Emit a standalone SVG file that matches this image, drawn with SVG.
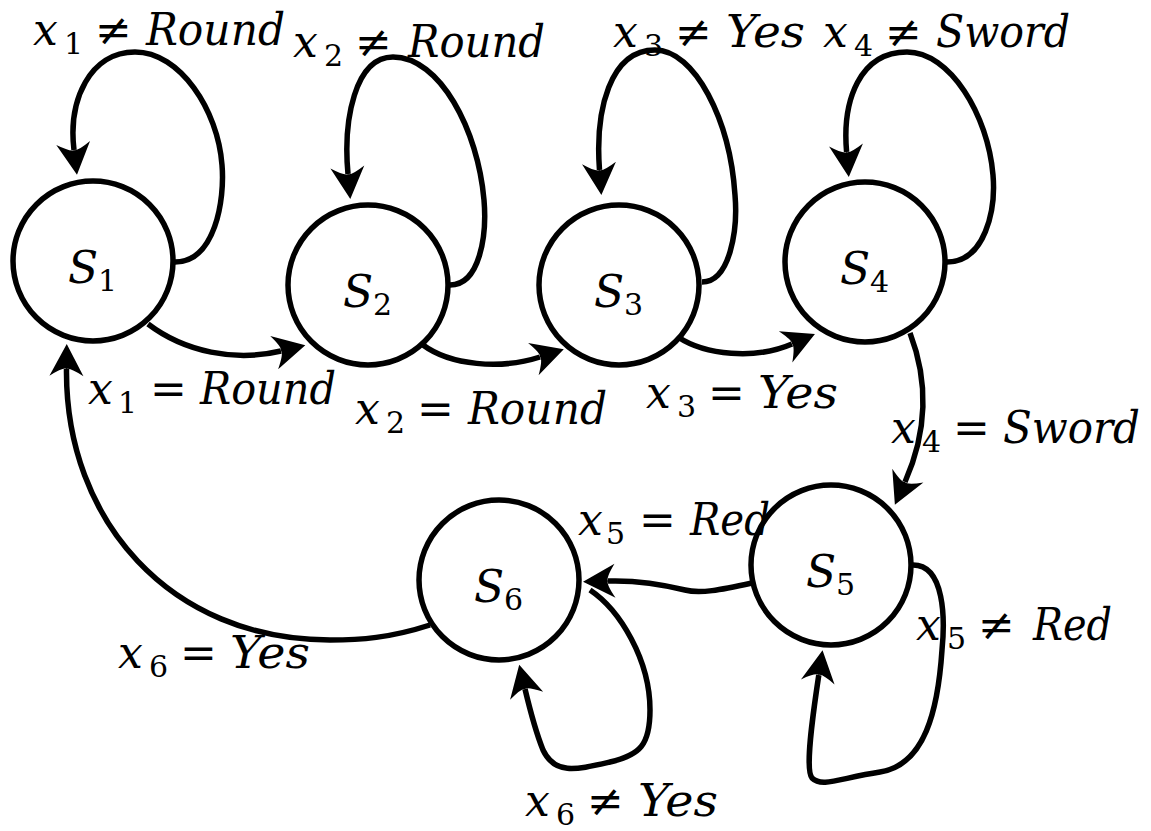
<svg xmlns="http://www.w3.org/2000/svg" width="1151" height="831" viewBox="0 0 1151 831">
<style>
.node circle{fill:#fff;stroke:#000;stroke-width:5.5}
.edge{fill:none;stroke:#000;stroke-width:5.5;marker-end:url(#ah)}
text{font-family:"DejaVu Serif","Liberation Serif",serif;font-size:44px;fill:#000}
.i{font-style:italic}
.s{font-size:30px;font-style:normal}
.r{font-size:44px;font-style:normal}
</style>
<defs>
<marker id="ah" markerUnits="userSpaceOnUse" viewBox="-2 -19 36 38" refX="7" refY="0" markerWidth="36" markerHeight="38" orient="auto">
<path d="M32,0 L0,-17 Q9,-3 7,0 Q9,3 0,17 Z" fill="#000"/>
</marker>
</defs>
<g id="S1" class="node"><circle cx="93" cy="261" r="80"/><text y="283"><tspan x="68" class="i">S</tspan><tspan x="98" dy="8" class="s">1</tspan></text></g>
<g id="S2" class="node"><circle cx="368" cy="285" r="80"/><text y="307"><tspan x="343" class="i">S</tspan><tspan x="373" dy="8" class="s">2</tspan></text></g>
<g id="S3" class="node"><circle cx="619" cy="285" r="80"/><text y="307"><tspan x="594" class="i">S</tspan><tspan x="624" dy="8" class="s">3</tspan></text></g>
<g id="S4" class="node"><circle cx="865" cy="262" r="80"/><text y="284"><tspan x="840" class="i">S</tspan><tspan x="870" dy="8" class="s">4</tspan></text></g>
<g id="S5" class="node"><circle cx="831" cy="565" r="80"/><text y="587"><tspan x="806" class="i">S</tspan><tspan x="836" dy="8" class="s">5</tspan></text></g>
<g id="S6" class="node"><circle cx="499" cy="580" r="80"/><text y="602"><tspan x="474" class="i">S</tspan><tspan x="504" dy="8" class="s">6</tspan></text></g>
<g id="connectors">
<path class="edge" d="M148,324 C185,352 235,362 281,351"/>
<path class="edge" d="M423,345 C450,365 500,370 540,357"/>
<path class="edge" d="M678,337 C705,355 755,360 792,344"/>
<path class="edge" d="M910,333 C928,380 928,430 905,482"/>
<path class="edge" d="M752,583 C720,590 700,594 685,590 C665,585 640,580 608,581"/>
<path class="edge" d="M430,625 C390,638 360,640 330,640 C170,640 65,520 66.5,369"/>
<path class="edge" d="M175,262 C215,262 225,200 222,165 C218,110 180,52 135,52 C90,52 68,100 74,150"/>
<path class="edge" d="M450,285 C480,285 487,235 484,200 C478,130 440,57 393,57 C355,57 343,120 348,174"/>
<path class="edge" d="M702,282 C730,282 738,230 735,195 C730,120 695,50 655,50 C610,50 595,110 599.5,170"/>
<path class="edge" d="M947,262 C985,262 996,210 993,175 C988,115 950,52 907,52 C860,52 842,100 846.6,152"/>
<path class="edge" d="M913,565 C945,565 945,620 942,650 C938,710 925,765 880,772 C840,778 822,788 812,778 C805,770 812,720 818.8,675"/>
<path class="edge" d="M590,590 C620,610 650,660 650,710 C650,745 640,755 610,762 C575,770 555,775 543,750 C535,730 530,710 525,689"/>
<text y="45"><tspan x="33" class="i">x</tspan><tspan x="64" dy="9" class="s">1</tspan><tspan x="95" dy="-9" class="r">≠</tspan><tspan x="146" class="i" textLength="139" lengthAdjust="spacingAndGlyphs">Round</tspan></text>
<text y="57"><tspan x="293" class="i">x</tspan><tspan x="324" dy="9" class="s">2</tspan><tspan x="355" dy="-9" class="r">≠</tspan><tspan x="408" class="i" textLength="137" lengthAdjust="spacingAndGlyphs">Round</tspan></text>
<text y="47"><tspan x="613" class="i">x</tspan><tspan x="644" dy="9" class="s">3</tspan><tspan x="675" dy="-9" class="r">≠</tspan><tspan x="726" class="i" textLength="79" lengthAdjust="spacingAndGlyphs">Yes</tspan></text>
<text y="47"><tspan x="823" class="i">x</tspan><tspan x="854" dy="9" class="s">4</tspan><tspan x="885" dy="-9" class="r">≠</tspan><tspan x="936" class="i" textLength="134" lengthAdjust="spacingAndGlyphs">Sword</tspan></text>
<text y="404"><tspan x="88" class="i">x</tspan><tspan x="118" dy="9" class="s">1</tspan><tspan x="150" dy="-9" class="r">=</tspan><tspan x="200" class="i" textLength="136" lengthAdjust="spacingAndGlyphs">Round</tspan></text>
<text y="424"><tspan x="355" class="i">x</tspan><tspan x="386" dy="9" class="s">2</tspan><tspan x="417" dy="-9" class="r">=</tspan><tspan x="468" class="i" textLength="139" lengthAdjust="spacingAndGlyphs">Round</tspan></text>
<text y="408"><tspan x="646" class="i">x</tspan><tspan x="677" dy="9" class="s">3</tspan><tspan x="708" dy="-9" class="r">=</tspan><tspan x="758" class="i" textLength="80" lengthAdjust="spacingAndGlyphs">Yes</tspan></text>
<text y="443"><tspan x="891" class="i">x</tspan><tspan x="922" dy="9" class="s">4</tspan><tspan x="953" dy="-9" class="r">=</tspan><tspan x="1003" class="i" textLength="137" lengthAdjust="spacingAndGlyphs">Sword</tspan></text>
<text y="535"><tspan x="578" class="i">x</tspan><tspan x="606" dy="9" class="s">5</tspan><tspan x="639" dy="-9" class="r">=</tspan><tspan x="690" class="i" textLength="80" lengthAdjust="spacingAndGlyphs">Red</tspan></text>
<text y="640"><tspan x="916" class="i">x</tspan><tspan x="947" dy="9" class="s">5</tspan><tspan x="978" dy="-9" class="r">≠</tspan><tspan x="1033" class="i" textLength="79" lengthAdjust="spacingAndGlyphs">Red</tspan></text>
<text y="668"><tspan x="118" class="i">x</tspan><tspan x="149" dy="9" class="s">6</tspan><tspan x="180" dy="-9" class="r">=</tspan><tspan x="230" class="i" textLength="80" lengthAdjust="spacingAndGlyphs">Yes</tspan></text>
<text y="816"><tspan x="525" class="i">x</tspan><tspan x="556" dy="9" class="s">6</tspan><tspan x="587" dy="-9" class="r">≠</tspan><tspan x="638" class="i" textLength="80" lengthAdjust="spacingAndGlyphs">Yes</tspan></text>
</g>
</svg>
